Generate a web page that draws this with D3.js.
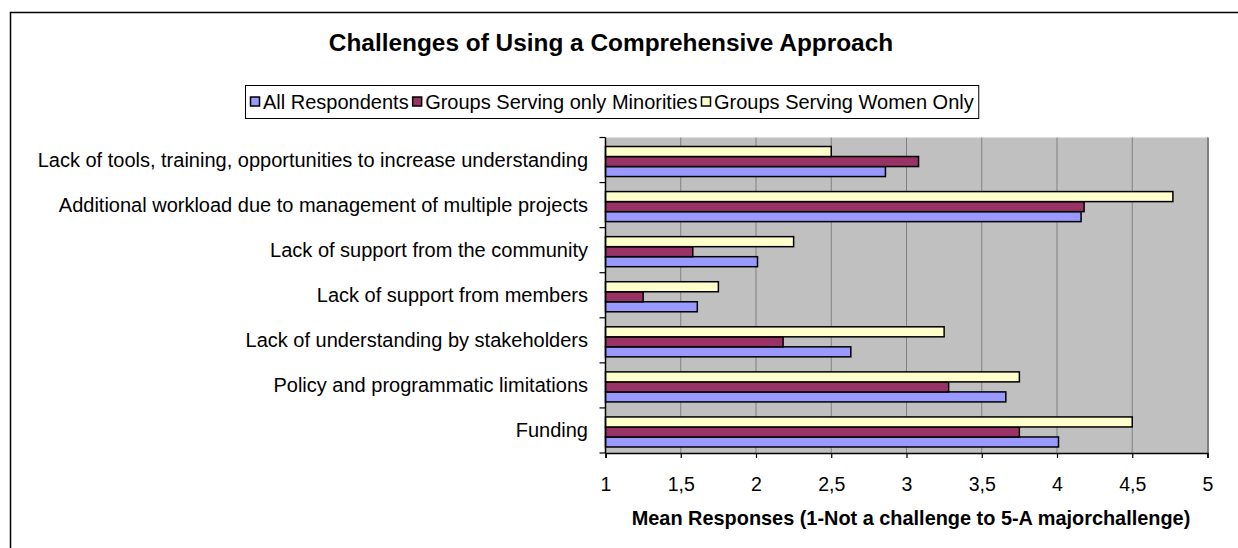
<!DOCTYPE html>
<html>
<head>
<meta charset="utf-8">
<script src="https://cdn.jsdelivr.net/npm/d3@7"></script>
<style>
  html, body { margin: 0; padding: 0; background: #fff; }
  svg { display: block; font-family: "Liberation Sans", Arial, sans-serif; }
</style>
</head>
<body>
<svg id="chart" width="1238" height="548"></svg>
<script>
// Challenge categories, top to bottom
const categories = [
  "Lack of tools, training, opportunities to increase understanding",
  "Additional workload due to management of multiple projects",
  "Lack of support from the community",
  "Lack of support from members",
  "Lack of understanding by stakeholders",
  "Policy and programmatic limitations",
  "Funding"
];

// Mean responses per respondent group (same order as categories)
const allRespondents = [2.86, 4.16, 2.01, 1.61, 2.63, 3.66, 4.01];
const minoritiesOnly = [3.08, 4.18, 1.58, 1.25, 2.18, 3.28, 3.75];
const womenOnly      = [2.50, 4.77, 2.25, 1.75, 3.25, 3.75, 4.50];

const seriesNames = ["All Respondents", "Groups Serving only Minorities", "Groups Serving Women Only"];
const seriesColors = ["#9999FF", "#993366", "#FFFFCC"];
const seriesValues = [allRespondents, minoritiesOnly, womenOnly];

const xTicks = [1, 1.5, 2, 2.5, 3, 3.5, 4, 4.5, 5];

const title = "Challenges of Using a Comprehensive Approach";
const xTitle = "Mean Responses (1-Not a challenge to 5-A majorchallenge)";

const svg = d3.select("#chart");

// outer chart frame (runs off the right and bottom edges)
svg.append("rect")
  .attr("x", 10.5).attr("y", 12.5)
  .attr("width", 1300).attr("height", 600)
  .attr("fill", "#fff").attr("stroke", "#000").attr("stroke-width", 1.5);

const plot = { left: 605.5, right: 1207.5, top: 137.5, bottom: 453 };

const x = d3.scaleLinear().domain([1, 5]).range([plot.left, plot.right]);
const y = d3.scaleBand().domain(categories).range([plot.top, plot.bottom]).padding(0);
// within each category the last series sits on top
const yInner = d3.scaleBand()
  .domain([2, 1, 0])
  .range([y.bandwidth() / 6 + 1.5, y.bandwidth() * 5 / 6 + 1.5]);

// plot background
svg.append("rect")
  .attr("x", plot.left).attr("y", plot.top)
  .attr("width", plot.right - plot.left).attr("height", plot.bottom - plot.top)
  .attr("fill", "#C0C0C0");

// vertical gridlines
svg.append("g")
  .selectAll("line")
  .data(xTicks.slice(1))
  .join("line")
  .attr("x1", d => x(d)).attr("x2", d => x(d))
  .attr("y1", plot.top).attr("y2", plot.bottom)
  .attr("stroke", "#808080").attr("stroke-width", 1);

// right edge of the plot area
svg.append("line")
  .attr("x1", plot.right + 0.5).attr("x2", plot.right + 0.5)
  .attr("y1", plot.top).attr("y2", plot.bottom)
  .attr("stroke", "#808080").attr("stroke-width", 2);

// bars
const groups = svg.append("g")
  .selectAll("g")
  .data(categories)
  .join("g")
  .attr("transform", d => `translate(0,${y(d)})`);

groups.selectAll("rect")
  .data((c, i) => seriesValues.map((vals, s) => ({ s, v: vals[i] })))
  .join("rect")
  .attr("x", x(1))
  .attr("y", d => yInner(d.s))
  .attr("width", d => x(d.v) - x(1))
  .attr("height", yInner.bandwidth())
  .attr("fill", d => seriesColors[d.s])
  .attr("stroke", "#000")
  .attr("stroke-width", 1.5);

// x axis
const xAxis = svg.append("g")
  .attr("transform", `translate(0,${plot.bottom})`)
  .call(d3.axisBottom(x).tickValues(xTicks).tickSize(5).tickPadding(19)
    .tickFormat(d => String(d).replace(".", ",")));
xAxis.select(".domain").attr("stroke", "#000").attr("stroke-width", 1.5);
xAxis.selectAll(".tick line").attr("stroke", "#000").attr("stroke-width", 1.2);
xAxis.selectAll(".tick text")
  .attr("font-size", 19.5).attr("fill", "#000")
  .attr("font-family", "Liberation Sans, Arial, sans-serif");

// y axis with ticks between categories
const yAxis = svg.append("g").attr("transform", `translate(${plot.left},0)`);
yAxis.append("line")
  .attr("x1", 0).attr("x2", 0).attr("y1", plot.top).attr("y2", plot.bottom)
  .attr("stroke", "#000").attr("stroke-width", 1.5);
yAxis.selectAll("line.sep")
  .data(categories.map(c => y(c)).concat([plot.bottom]))
  .join("line")
  .attr("class", "sep")
  .attr("x1", -6).attr("x2", 0)
  .attr("y1", d => d).attr("y2", d => d)
  .attr("stroke", "#000").attr("stroke-width", 1.2);

// category labels
svg.append("g")
  .selectAll("text")
  .data(categories)
  .join("text")
  .attr("x", 588)
  .attr("y", d => y(d) + y.bandwidth() / 2 + 7)
  .attr("text-anchor", "end")
  .attr("font-size", 20)
  .attr("fill", "#000")
  .text(d => d);

// title
svg.append("text")
  .attr("x", 611).attr("y", 51)
  .attr("text-anchor", "middle")
  .attr("font-size", 24.4).attr("font-weight", "bold")
  .text(title);

// x axis title
svg.append("text")
  .attr("x", 911).attr("y", 525)
  .attr("text-anchor", "middle")
  .attr("font-size", 19.9).attr("font-weight", "bold")
  .text(xTitle);

// legend: items laid out left to right, box sized to fit
const legend = svg.append("g");
const legendBox = legend.append("rect")
  .attr("x", 245.5).attr("y", 85.5).attr("height", 33)
  .attr("fill", "#fff").attr("stroke", "#000").attr("stroke-width", 1);

let lx = 250.5;
seriesNames.forEach((name, s) => {
  legend.append("rect")
    .attr("x", lx).attr("y", 97).attr("width", 9).attr("height", 9)
    .attr("fill", seriesColors[s]).attr("stroke", "#000").attr("stroke-width", 1.5);
  const t = legend.append("text")
    .attr("x", lx + 12.5).attr("y", 108.5)
    .attr("font-size", 20).attr("fill", "#000")
    .text(name);
  lx += 12.5 + t.node().getComputedTextLength() + 4;
});
legendBox.attr("width", lx + 1 - 245.5);
</script>
</body>
</html>
